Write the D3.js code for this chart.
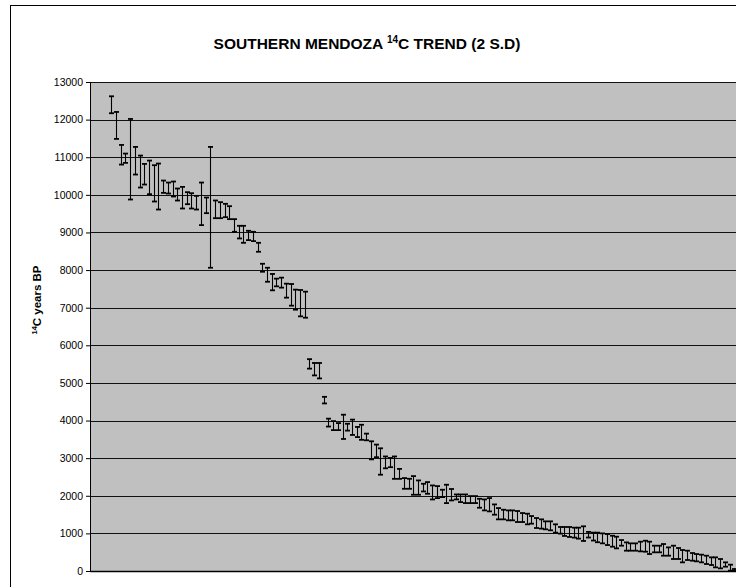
<!DOCTYPE html>
<html>
<head>
<meta charset="utf-8">
<script src="https://cdn.jsdelivr.net/npm/d3@7"></script>
<style>
  html, body { margin: 0; padding: 0; background: #fff; }
  svg { display: block; }
</style>
</head>
<body>
<svg id="chart" width="736" height="587"></svg>
<script>
// ---- data (14C ages, 2 S.D. ranges; first 4 categories are empty) ----
const lows = [null, null, null, null,
  12170, 11487, 10805, 10850, 9876, 10540, 10195, 10274, 10018, 9823,
  9610, 10053, 10035, 9956, 9849, 9637, 9752, 9637, 9610, 9195,
  9513, 8062, 9380, 9380, 9407, 9354, 9018, 8841, 8725, 8796,
  8770, 8487, 7956, 7690, 7462, 7568, 7533, 7267, 7054, 6947,
  6770, 6734, 5380, 5200, 5120, 4455, 3840, 3745, 3745, 3510,
  3732, 3617, 3560, 3488, 3475, 2968, 3025, 2560, 2730, 2760,
  2450, 2450, 2186, 2186, 2027, 2027, 2115, 2053, 1902, 1938,
  1965, 1805, 1876, 1903, 1832, 1806, 1806, 1806, 1682, 1611,
  1585, 1497, 1373, 1373, 1347, 1347, 1302, 1302, 1241, 1258,
  1143, 1126, 1108, 1082, 1020, 993, 932, 905, 887, 860,
  799, 890, 810, 765, 735, 690, 646, 602, 673, 540,
  540, 540, 522, 513, 451, 496, 496, 407, 407, 319,
  319, 230, 292, 274, 257, 230, 186, 159, 97, 71,
  115, 9, 0];
const highs = [null, null, null, null,
  12620, 12204, 11327, 11097, 12018, 11274, 11044, 10823, 10911, 10788,
  10832, 10380, 10327, 10354, 10168, 10212, 10071, 10044, 9973, 10327,
  9929, 11274, 9850, 9805, 9761, 9699, 9354, 9177, 9177, 9044,
  9018, 8725, 8168, 8062, 7897, 7772, 7799, 7639, 7630, 7480,
  7471, 7426, 5632, 5530, 5530, 4630, 4050, 3985, 3932, 4155,
  3915, 4025, 3830, 3888, 3652, 3448, 3360, 3262, 3045, 3005,
  3045, 2715, 2470, 2452, 2523, 2408, 2319, 2364, 2275, 2257,
  2160, 2293, 2180, 2035, 2035, 2035, 1991, 1991, 1920, 1903,
  1938, 1770, 1673, 1629, 1611, 1611, 1594, 1541, 1523, 1461,
  1408, 1373, 1320, 1320, 1241, 1170, 1170, 1170, 1152, 1152,
  1188, 1040, 1020, 1020, 1000, 982, 938, 912, 823, 761,
  735, 735, 779, 805, 779, 673, 673, 717, 628, 673,
  611, 558, 540, 478, 451, 434, 407, 363, 363, 319,
  230, 168, 53];
const categories = lows.map((d, i) => i + 1);
const yTickValues = [0, 1000, 2000, 3000, 4000, 5000, 6000, 7000, 8000, 9000, 10000, 11000, 12000, 13000];
const titleMain = "SOUTHERN MENDOZA ";
const titleSup = "14";
const titleRest = "C TREND (2 S.D)";

// ---- layout ----
const svg = d3.select("#chart");
const plot = { left: 90, top: 82, right: 736.6, bottom: 571 };

// chart area frame
svg.append("rect")
  .attr("x", 10.5).attr("y", 5.5)
  .attr("width", 800).attr("height", 700)
  .attr("fill", "#fff").attr("stroke", "#000").attr("stroke-width", 1);

const x = d3.scaleBand().domain(categories).range([plot.left, plot.right]).padding(0);
const y = d3.scaleLinear().domain([0, 13000]).range([plot.bottom, plot.top]);

// plot area
svg.append("rect")
  .attr("x", plot.left).attr("y", plot.top)
  .attr("width", plot.right - plot.left).attr("height", plot.bottom - plot.top)
  .attr("fill", "#c0c0c0");

// gridlines
svg.append("g").selectAll("line").data(yTickValues).join("line")
  .attr("x1", plot.left).attr("x2", plot.right)
  .attr("y1", d => Math.round(y(d)) + 0.5).attr("y2", d => Math.round(y(d)) + 0.5)
  .attr("stroke", "#111").attr("stroke-width", 1);

// y axis
const yAxis = d3.axisLeft(y).tickValues(yTickValues).tickSize(4).tickPadding(3).tickFormat(d3.format("d"));
const gy = svg.append("g").attr("transform", `translate(${plot.left},0)`).call(yAxis);
gy.select(".domain").attr("stroke", "#000");
gy.selectAll(".tick line").attr("stroke", "#000");
gy.selectAll(".tick text")
  .attr("font-family", "'Liberation Sans', Arial, sans-serif")
  .attr("font-size", "10.5px").attr("fill", "#000");

// x axis (no labels)
const xAxis = d3.axisBottom(x).tickSize(0).tickFormat("");
const gx = svg.append("g").attr("transform", `translate(0,${plot.bottom})`).call(xAxis);
gx.select(".domain").attr("stroke", "#000").attr("stroke-width", 1.5);

// error bars
const data = categories.map((c, i) => ({ c, lo: lows[i], hi: highs[i] })).filter(d => d.lo != null);
const bars = svg.append("g");
const cx = d => Math.round(x(d.c) + x.bandwidth() / 2) + 0.5;
bars.selectAll("line.stem").data(data).join("line").attr("class", "stem")
  .attr("x1", cx).attr("x2", cx)
  .attr("y1", d => y(d.hi)).attr("y2", d => y(d.lo))
  .attr("stroke", "#000").attr("stroke-width", 1.1);
bars.selectAll("line.capT").data(data).join("line").attr("class", "capT")
  .attr("x1", d => cx(d) - 2.5).attr("x2", d => cx(d) + 2.5)
  .attr("y1", d => y(d.hi)).attr("y2", d => y(d.hi))
  .attr("stroke", "#000").attr("stroke-width", 1.8);
bars.selectAll("line.capB").data(data).join("line").attr("class", "capB")
  .attr("x1", d => cx(d) - 2.5).attr("x2", d => cx(d) + 2.5)
  .attr("y1", d => y(d.lo)).attr("y2", d => y(d.lo))
  .attr("stroke", "#000").attr("stroke-width", 1.8);

// title
const title = svg.append("text")
  .attr("x", 367).attr("y", 49)
  .attr("text-anchor", "middle")
  .attr("font-family", "'Liberation Sans', Arial, sans-serif")
  .attr("font-weight", "bold").attr("font-size", "15.5px").attr("fill", "#000");
title.append("tspan").text(titleMain);
title.append("tspan").attr("font-size", "10px").attr("dy", -6).text(titleSup);
title.append("tspan").attr("dy", 6).text(titleRest);

// y axis title
const yl = svg.append("text")
  .attr("transform", "translate(41,300) rotate(-90)")
  .attr("text-anchor", "middle")
  .attr("font-family", "'Liberation Sans', Arial, sans-serif")
  .attr("font-weight", "bold").attr("font-size", "11.5px").attr("fill", "#000");
yl.append("tspan").attr("font-size", "7.5px").attr("dy", -4.5).text("14");
yl.append("tspan").attr("dy", 4.5).text("C years BP");
</script>
</body>
</html>
